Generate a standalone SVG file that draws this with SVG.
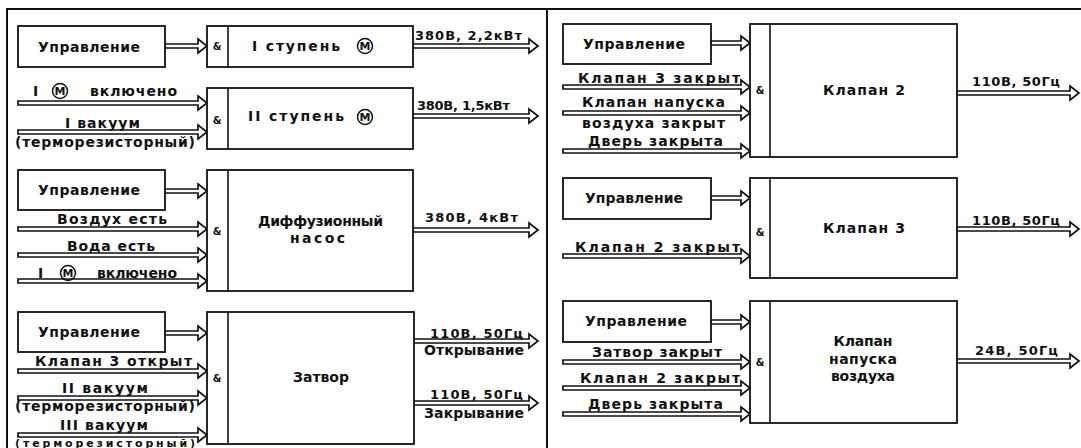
<svg xmlns="http://www.w3.org/2000/svg" width="1081" height="448" viewBox="0 0 1081 448">
<style>
.bg{fill:#fff}
.frame{fill:none;stroke:#111;stroke-width:2}
.box{fill:#fff;stroke:#111;stroke-width:1.8}
.div{stroke:#111;stroke-width:1.6}
.arr{fill:#fff;stroke:#111;stroke-width:1.7;stroke-linejoin:miter}
.mc{fill:none;stroke:#111;stroke-width:1.5}
.t{font-family:"DejaVu Sans","Liberation Sans",sans-serif;font-size:14px;font-weight:bold;fill:#111}
.s{font-size:13px}
.amp{font-family:"DejaVu Sans","Liberation Sans",sans-serif;font-size:10px;font-weight:bold;fill:#111;text-anchor:middle}
.m{font-family:"DejaVu Sans","Liberation Sans",sans-serif;font-size:11px;font-weight:bold;fill:#111;text-anchor:middle}
.c{text-anchor:middle}
</style>
<rect class="bg" x="0" y="0" width="1081" height="448"/>
<g id="frame">
<path class="frame" d="M7,448 V9 H1081 M547,9 V448"/>
</g>

<g id="connectors">
<path class="arr" d="M165,44 H198 V39 L207,46 L198,53 V48 H165 Z"/>
<path class="arr" d="M413,44 H529 V39 L538,46 L529,53 V48 H413 Z"/>
<path class="arr" d="M18,101 H198 V96 L207,103 L198,110 V105 H18 Z"/>
<path class="arr" d="M18,130 H198 V125 L207,132 L198,139 V134 H18 Z"/>
<path class="arr" d="M413,114 H529 V109 L538,116 L529,123 V118 H413 Z"/>
<path class="arr" d="M165,189 H198 V184 L207,191 L198,198 V193 H165 Z"/>
<path class="arr" d="M18,227 H198 V222 L207,229 L198,236 V231 H18 Z"/>
<path class="arr" d="M18,253 H198 V248 L207,255 L198,262 V257 H18 Z"/>
<path class="arr" d="M18,279 H198 V274 L207,281 L198,288 V283 H18 Z"/>
<path class="arr" d="M413,228 H529 V223 L538,230 L529,237 V232 H413 Z"/>
<path class="arr" d="M165,331 H198 V326 L207,333 L198,340 V335 H165 Z"/>
<path class="arr" d="M18,369 H198 V364 L207,371 L198,378 V373 H18 Z"/>
<path class="arr" d="M18,396 H198 V391 L207,398 L198,405 V400 H18 Z"/>
<path class="arr" d="M18,433 H198 V428 L207,435 L198,442 V437 H18 Z"/>
<path class="arr" d="M414,339 H529 V334 L538,341 L529,348 V343 H414 Z"/>
<path class="arr" d="M414,401 H529 V396 L538,403 L529,410 V405 H414 Z"/>

<path class="arr" d="M711,41 H741 V36 L750,43 L741,50 V45 H711 Z"/>
<path class="arr" d="M563,85 H741 V80 L750,87 L741,94 V89 H563 Z"/>
<path class="arr" d="M563,111 H741 V106 L750,113 L741,120 V115 H563 Z"/>
<path class="arr" d="M563,149 H741 V144 L750,151 L741,158 V153 H563 Z"/>
<path class="arr" d="M957,91 H1070 V86 L1079,93 L1070,100 V95 H957 Z"/>
<path class="arr" d="M711,196 H741 V191 L750,198 L741,205 V200 H711 Z"/>
<path class="arr" d="M563,254 H741 V249 L750,256 L741,263 V258 H563 Z"/>
<path class="arr" d="M957,227 H1070 V222 L1079,229 L1070,236 V231 H957 Z"/>
<path class="arr" d="M711,320 H741 V315 L750,322 L741,329 V324 H711 Z"/>
<path class="arr" d="M563,360 H741 V355 L750,362 L741,369 V364 H563 Z"/>
<path class="arr" d="M563,386 H741 V381 L750,388 L741,395 V390 H563 Z"/>
<path class="arr" d="M563,412 H741 V407 L750,414 L741,421 V416 H563 Z"/>
<path class="arr" d="M957,359 H1070 V354 L1079,361 L1070,368 V363 H957 Z"/>
</g>

<g id="ctl1">
<rect class="box" x="18" y="26" width="147" height="41"/>
<text class="t" x="38" y="52" textLength="102">Управление</text>
</g>
<g id="stage1">
<rect class="box" x="207" y="26" width="206" height="41"/>
<line class="div" x1="228" y1="26" x2="228" y2="67"/>
<text class="amp" x="217" y="50">&amp;</text>
<text class="t" x="252" y="51" textLength="88">I ступень</text>
<circle class="mc" cx="365" cy="46" r="7.5"/>
<text class="m" x="365" y="50">M</text>
<text class="t s" x="415" y="40" textLength="107">380В, 2,2кВт</text>
</g>

<g id="in-motor1">
<text class="t" x="33" y="96">I</text>
<circle class="mc" cx="60" cy="91" r="7.5"/>
<text class="m" x="60" y="95">M</text>
<text class="t" x="90" y="96" textLength="87">включено</text>
</g>
<g id="in-vac1">
<text class="t" x="65" y="128" textLength="75">I вакуум</text>
<text class="t" x="15" y="147" textLength="180">(терморезисторный)</text>
</g>
<g id="stage2">
<rect class="box" x="207" y="88" width="206" height="61"/>
<line class="div" x1="228" y1="88" x2="228" y2="149"/>
<text class="amp" x="217" y="124">&amp;</text>
<text class="t" x="248" y="121" textLength="96">II ступень</text>
<circle class="mc" cx="365" cy="117" r="7.5"/>
<text class="m" x="365" y="121">M</text>
<text class="t s" x="417" y="110" textLength="93">380В, 1,5кВт</text>
</g>

<g id="ctl2">
<rect class="box" x="18" y="170" width="147" height="40"/>
<text class="t" x="38" y="195" textLength="102">Управление</text>
</g>
<g id="in-air">
<text class="t" x="57" y="224" textLength="110">Воздух есть</text>
</g>
<g id="in-water">
<text class="t" x="67" y="251" textLength="88">Вода есть</text>
</g>
<g id="in-motor2">
<text class="t" x="38" y="278">I</text>
<circle class="mc" cx="68" cy="273" r="7.5"/>
<text class="m" x="68" y="277">M</text>
<text class="t" x="97" y="278" textLength="80">включено</text>
</g>
<g id="diffpump">
<rect class="box" x="207" y="170" width="206" height="121"/>
<line class="div" x1="228" y1="170" x2="228" y2="291"/>
<text class="amp" x="217" y="235">&amp;</text>
<text class="t" x="258" y="226" textLength="125">Диффузионный</text>
<text class="t" x="290" y="243" textLength="55">насос</text>
<text class="t s" x="425" y="222" textLength="93">380В, 4кВт</text>
</g>

<g id="ctl3">
<rect class="box" x="18" y="312" width="147" height="40"/>
<text class="t" x="38" y="337" textLength="102">Управление</text>
</g>
<g id="in-v3open">
<text class="t" x="35" y="366" textLength="157">Клапан 3 открыт</text>
</g>
<g id="in-vac2">
<text class="t" x="62" y="393" textLength="86">II вакуум</text>
<text class="t" x="15" y="411" textLength="180">(терморезисторный)</text>
</g>
<g id="in-vac3">
<text class="t" x="60" y="430" textLength="88">III вакуум</text>
<text class="t" x="15" y="447" textLength="180" style="font-size:11px">(терморезисторный)</text>
</g>
<g id="gate">
<rect class="box" x="207" y="312" width="207" height="132"/>
<line class="div" x1="228" y1="312" x2="228" y2="444"/>
<text class="amp" x="217" y="382">&amp;</text>
<text class="t" x="293" y="382" textLength="56">Затвор</text>
<text class="t s" x="430" y="338" textLength="93">110В, 50Гц</text>
<text class="t" x="424" y="355" textLength="100">Открывание</text>
<text class="t s" x="430" y="399" textLength="93">110В, 50Гц</text>
<text class="t" x="424" y="418" textLength="100">Закрывание</text>
</g>

<g id="ctl4">
<rect class="box" x="563" y="24" width="148" height="40"/>
<text class="t" x="583" y="49" textLength="102">Управление</text>
</g>
<g id="in-v3closed">
<text class="t" x="578" y="83" textLength="162">Клапан 3 закрыт</text>
</g>
<g id="in-airvalve">
<text class="t" x="582" y="107" textLength="143">Клапан напуска</text>
<text class="t" x="582" y="128" textLength="143">воздуха закрыт</text>
</g>
<g id="in-door1">
<text class="t" x="588" y="146" textLength="135">Дверь закрыта</text>
</g>
<g id="valve2">
<rect class="box" x="750" y="24" width="207" height="133"/>
<line class="div" x1="770" y1="24" x2="770" y2="157"/>
<text class="amp" x="760" y="94">&amp;</text>
<text class="t" x="823" y="95" textLength="82">Клапан 2</text>
<text class="t s" x="972" y="86" textLength="88">110В, 50Гц</text>
</g>

<g id="ctl5">
<rect class="box" x="563" y="178" width="148" height="41"/>
<text class="t" x="585" y="203" textLength="98">Управление</text>
</g>
<g id="in-v2closed1">
<text class="t" x="575" y="252" textLength="165">Клапан 2 закрыт</text>
</g>
<g id="valve3">
<rect class="box" x="750" y="178" width="207" height="100"/>
<line class="div" x1="770" y1="178" x2="770" y2="278"/>
<text class="amp" x="760" y="236">&amp;</text>
<text class="t" x="823" y="233" textLength="82">Клапан 3</text>
<text class="t s" x="972" y="225" textLength="88">110В, 50Гц</text>
</g>

<g id="ctl6">
<rect class="box" x="563" y="301" width="148" height="41"/>
<text class="t" x="585" y="326" textLength="102">Управление</text>
</g>
<g id="in-gateclosed">
<text class="t" x="592" y="357" textLength="130">Затвор закрыт</text>
</g>
<g id="in-v2closed2">
<text class="t" x="580" y="383" textLength="160">Клапан 2 закрыт</text>
</g>
<g id="in-door2">
<text class="t" x="588" y="409" textLength="135">Дверь закрыта</text>
</g>
<g id="airvalve">
<rect class="box" x="750" y="301" width="207" height="122"/>
<line class="div" x1="770" y1="301" x2="770" y2="423"/>
<text class="amp" x="760" y="366">&amp;</text>
<text class="t c" x="863" y="346" textLength="59">Клапан</text>
<text class="t c" x="863" y="364" textLength="68">напуска</text>
<text class="t c" x="863" y="381" textLength="64">воздуха</text>
<text class="t s" x="975" y="355" textLength="83">24В, 50Гц</text>
</g>
</svg>
